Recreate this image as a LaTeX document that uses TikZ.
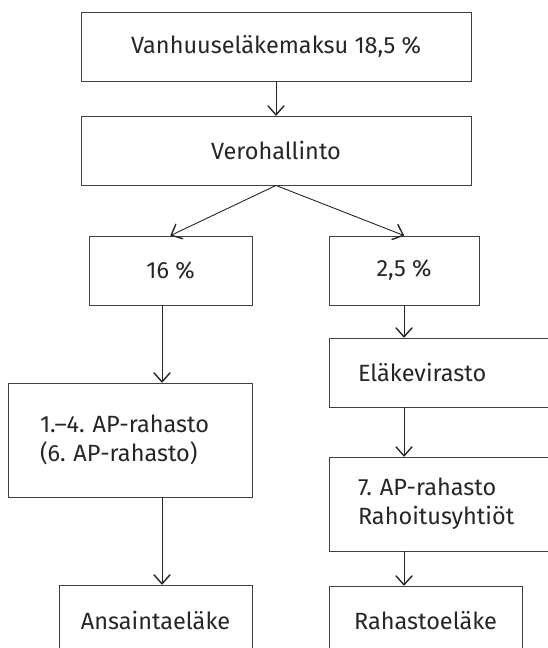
\documentclass[tikz,border=0pt]{standalone}
\usepackage{fontspec}
\setmainfont{Fira Sans}
\usetikzlibrary{arrows.meta}
\frenchspacing

\begin{document}
\begin{tikzpicture}[x=1pt, y=-1pt,
	box/.style={draw=black!75, line width=0.9pt, text=black!85, minimum height=69pt, inner sep=0pt, font=\fontsize{23.5}{29}\selectfont},
	flow/.style={draw=black!85, line width=0.9pt, -{Straight Barb[length=9pt, width=16pt, line width=1.4pt, round]}}]
	\useasboundingbox (0, 0) rectangle (547, 648);

	\node[box, minimum width=390pt] (maksu) at (276, 46.5) {Vanhuuseläkemaksu 18,5 \%};
	\node[box, minimum width=390pt] (vero) at (276, 150.5) {Verohallinto};

	\node[box, minimum width=163pt] (p16) at (170.5, 270.5) {16 \%};
	\node[box, minimum width=150pt] (p25) at (404, 270.5) {2,5 \%};

	\node[box, minimum height=114pt, inner xsep=32pt, text width=180pt, align=left] (ap14) at (130, 440) {1.–4. AP-rahasto\\(6. AP-rahasto)};
	\node[box, inner xsep=29pt, text width=192pt, align=left] (virasto) at (454, 372.5) {Eläkevirasto};
	\node[box, minimum height=94pt, inner xsep=29pt, text width=192pt, align=left] (ap7) at (454, 504) {7. AP-rahasto\\Rahoitusyhtiöt};

	\node[box, minimum width=193pt, minimum height=70pt] (ansio) at (155.5, 620) {Ansaintaeläke};
	\node[box, minimum width=193pt] (rahasto) at (425.5, 620.5) {Rahastoeläke};

	\coordinate (colL) at (162, 0);
	\coordinate (colR) at (404, 0);

	\draw[flow] (maksu.south) -- (vero.north);
	\draw[flow] (vero.south) -- (p16.north);
	\draw[flow] (vero.south) -- (p25.north);

	\draw[flow] (p16.south -| colL) -- (ap14.north -| colL);
	\draw[flow] (ap14.south -| colL) -- (ansio.north -| colL);

	\draw[flow] (p25.south -| colR) -- (virasto.north -| colR);
	\draw[flow] (virasto.south -| colR) -- (ap7.north -| colR);
	\draw[flow] (ap7.south -| colR) -- (rahasto.north -| colR);
\end{tikzpicture}
\end{document}
